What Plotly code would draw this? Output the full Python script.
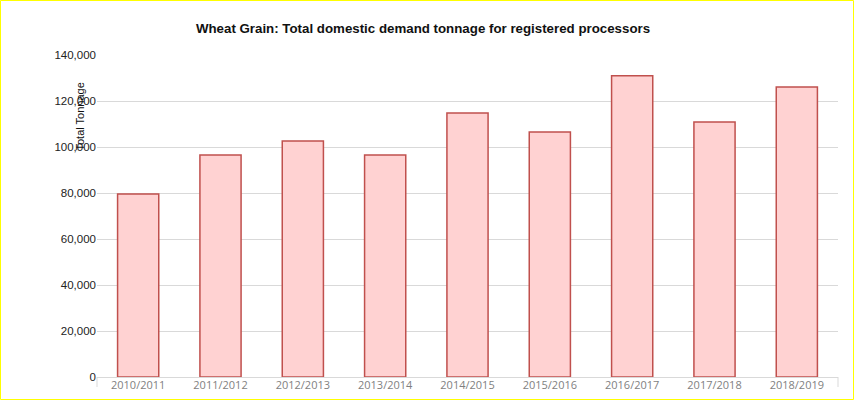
import plotly.graph_objects as go

# data
seasons = [
    "2010/2011", "2011/2012", "2012/2013", "2013/2014", "2014/2015",
    "2015/2016", "2016/2017", "2017/2018", "2018/2019",
]
tonnage = [79600, 96500, 102600, 96500, 114800, 106500, 131000, 110900, 126100]
y_ticks = [0, 20000, 40000, 60000, 80000, 100000, 120000, 140000]

WIDTH, HEIGHT = 856, 401
MARGIN = dict(l=97, r=18, t=55, b=24)
PLOT_W = WIDTH - MARGIN["l"] - MARGIN["r"]
PLOT_H = HEIGHT - MARGIN["t"] - MARGIN["b"]
GRID = "#d9d9d9"


def px_x(px):
    # figure pixel -> paper x
    return (px - MARGIN["l"]) / PLOT_W


def px_y(px):
    # figure pixel (from top) -> paper y
    return (HEIGHT - MARGIN["b"] - px) / PLOT_H


fig = go.Figure()

fig.add_trace(
    go.Bar(
        x=seasons,
        y=tonnage,
        marker=dict(
            color="#ffd2d2",
            line=dict(color="#c0504d", width=1.5),
        ),
        hovertemplate="%{x}: %{y:,}<extra></extra>",
    )
)

fig.update_xaxes(
    automargin=False,
    showgrid=False,
    showline=True,
    linecolor=GRID,
    linewidth=1,
    ticks="",
    ticklabelstandoff=-2,
    tickfont=dict(family="Open Sans", size=11, color="#7f7f7f"),
)
fig.update_yaxes(
    automargin=False,
    range=[0, 140000],
    tickvals=y_ticks,
    tickformat=",",
    showgrid=True,
    gridcolor=GRID,
    gridwidth=1,
    zeroline=False,
    ticks="",
    tickfont=dict(family="Liberation Sans", size=11.5, color="#222222"),
)

# end ticks of the category axis and the yellow frame round the chart
shapes = [
    dict(type="line", xref="paper", yref="paper", x0=0, x1=0,
         y0=0, y1=-10 / PLOT_H, line=dict(color=GRID, width=1)),
    dict(type="line", xref="paper", yref="paper", x0=1, x1=1,
         y0=0, y1=-10 / PLOT_H, line=dict(color=GRID, width=1)),
    dict(type="rect", xref="paper", yref="paper",
         x0=px_x(0.5), x1=px_x(WIDTH - 2.5),
         y0=px_y(HEIGHT - 1.5), y1=px_y(0.5),
         line=dict(color="#ffff00", width=1)),
]

fig.update_layout(
    width=WIDTH,
    height=HEIGHT,
    margin=dict(MARGIN, autoexpand=False),
    paper_bgcolor="white",
    plot_bgcolor="white",
    bargap=0.5,
    showlegend=False,
    shapes=shapes,
    title=dict(
        text="Wheat Grain: Total domestic demand tonnage for registered processors",
        x=423 / WIDTH,
        xref="container",
        xanchor="center",
        y=1 - 28 / HEIGHT,
        yanchor="middle",
        font=dict(family="Liberation Sans", size=13.3, color="#111111",
                  weight="bold"),
    ),
    annotations=[
        dict(
            text="Total Tonnage",
            xref="paper",
            yref="paper",
            x=px_x(79.5),
            y=px_y(117),
            textangle=-90,
            showarrow=False,
            xanchor="center",
            yanchor="middle",
            font=dict(family="Liberation Sans", size=11, color="#111111"),
        )
    ],
)

# drop the browser's default page margin so the chart sits at the corner
fig.write_html(
    "out.html",
    config={"displayModeBar": False},
    post_script="document.body.style.margin='0';",
)
